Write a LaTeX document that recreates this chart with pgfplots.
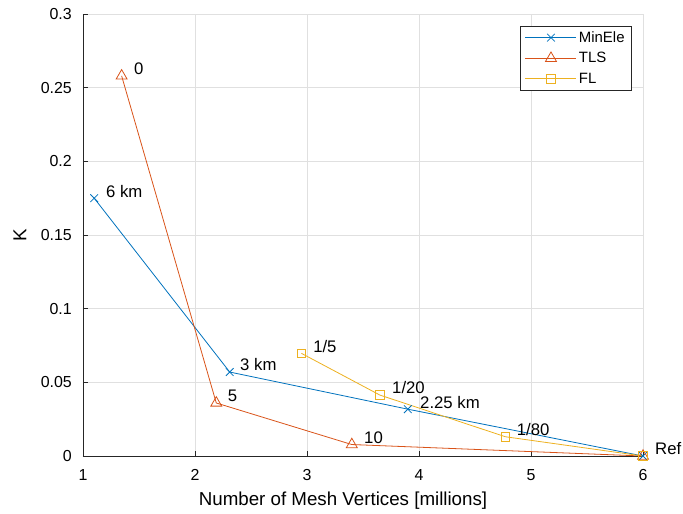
\documentclass[border=0pt]{standalone}
\usepackage{pgfplots}
\pgfplotsset{compat=1.18}
\usepackage{fontspec}
\setmainfont{Liberation Sans}
\definecolor{mblue}{rgb}{0,0.447,0.741}
\definecolor{morange}{rgb}{0.85,0.325,0.098}
\definecolor{myellow}{rgb}{0.929,0.694,0.125}
\begin{document}
\begin{tikzpicture}
\begin{axis}[
  scale only axis,
  width=560bp, height=442bp,
  xmin=1, xmax=6, ymin=0, ymax=0.3,
  xtick={1,2,3,4,5,6},
  ytick={0,0.05,0.1,0.15,0.2,0.25,0.3},
  yticklabels={0,0.05,0.1,0.15,0.2,0.25,0.3},
  axis x line*=bottom, axis y line*=left,
  axis line style={black!85, line width=0.7bp},
  tick align=inside,
  major tick length=5.5bp,
  tick style={black!85, line width=0.7bp},
  grid=major,
  major grid style={black!12, line width=0.7bp},
  clip=false,
  /pgf/number format/assume math mode=true,
  xticklabel style={font=\fontsize{16}{19}\selectfont, anchor=base, yshift=-24bp, inner sep=0pt},
  yticklabel style={font=\fontsize{16}{19}\selectfont, anchor=east, inner sep=0pt, xshift=-11bp},
  xlabel={Number of Mesh Vertices [millions]},
  xlabel style={font=\fontsize{18.8}{22}\selectfont, at={(rel axis cs:0.4643,0)}, anchor=base, yshift=-49bp, inner sep=0pt},
  ylabel={K},
  ylabel style={font=\fontsize{18.8}{22}\selectfont, at={(rel axis cs:-0.1125,0.5)}, anchor=center, inner sep=0pt},
  legend cell align=left,
  legend style={font=\fontsize{15}{18}\selectfont, at={(rel axis cs:0.98,0.9735)}, anchor=north east,
    draw=black!85, line width=0.5bp, inner xsep=5bp, inner ysep=3.5bp, row sep=4.5bp,
    nodes={inner sep=2bp}},
  legend image code/.code={\draw[mark repeat=2,mark phase=2] plot coordinates {(0bp,0bp)(25.5bp,0bp)(51bp,0bp)};},
  every axis plot/.append style={line width=0.8bp},
]
\addplot[mblue, mark=x, mark size=5.4bp, mark options={solid, line width=0.8bp}] coordinates {
  (1.10,0.175) (2.31,0.057) (3.90,0.0318) (6.0,0.0)
};
\addlegendentry{MinEle}
\addplot[morange, mark=triangle, mark size=6.3bp, mark options={solid, line width=0.8bp}] coordinates {
  (1.345,0.258) (2.19,0.036) (3.40,0.0078) (6.0,0.0)
};
\addlegendentry{TLS}
\addplot[myellow, mark=square, mark size=4.3bp, mark options={solid, line width=0.8bp}] coordinates {
  (2.95,0.0697) (3.65,0.0414) (4.77,0.0131) (6.0,0.0)
};
\addlegendentry{FL}
\begin{scope}[every node/.style={anchor=west, inner sep=0pt, font=\fontsize{16.8}{20}\selectfont}]
\node at (axis cs:1.205,0.1794) {6 km};
\node at (axis cs:2.402,0.0618) {3 km};
\node at (axis cs:4.009,0.0362) {2.25 km};
\node at (axis cs:1.455,0.2627) {0};
\node at (axis cs:2.292,0.0407) {5};
\node at (axis cs:3.509,0.0122) {10};
\node at (axis cs:3.054,0.0740) {1/5};
\node at (axis cs:3.759,0.0462) {1/20};
\node at (axis cs:4.872,0.0183) {1/80};
\node at (axis cs:6.107,0.0054) {Ref};
\end{scope}
\path (rel axis cs:-0.1482,-0.129) rectangle (rel axis cs:1.0714,1.0317);
\end{axis}
\end{tikzpicture}
\end{document}
